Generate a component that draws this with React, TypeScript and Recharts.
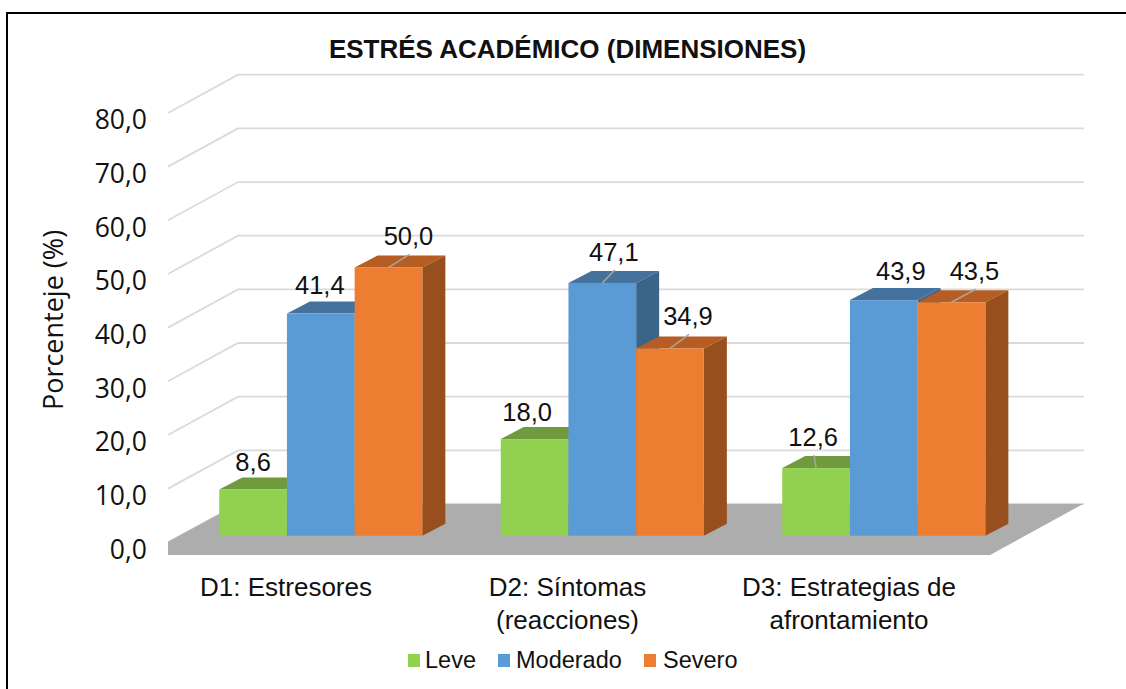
import { Bar, BarChart, CartesianGrid, LabelList, Legend, XAxis, YAxis } from 'recharts'

const categories = ['D1: Estresores', 'D2: Síntomas|(reacciones)', 'D3: Estrategias de|afrontamiento']
const leve = [8.6, 18.0, 12.6]
const moderado = [41.4, 47.1, 43.9]
const severo = [50.0, 34.9, 43.5]
const yTicks = [0, 10, 20, 30, 40, 50, 60, 70, 80]

const rows = categories.map((name, i) => ({
  name,
  leve: leve[i],
  moderado: moderado[i],
  severo: severo[i],
}))

const fmt = (n: number) => n.toFixed(1).replace('.', ',')

// caras de cada serie: frente, tapa, lateral
const leveColors = ['#92D050', '#6F9A3E', '#577A31']
const moderadoColors = ['#5B9BD5', '#44729D', '#3B6489']
const severoColors = ['#ED7D31', '#B55D22', '#964F1D']

// profundidad de la barra y de la pared del fondo
const BAR_DX = 23
const BAR_DY = -12
const WALL_LEFT = 168
const WALL_BACK = 238
const WALL_RIGHT = 1084
const BASE_Y = 535.7

// desplazamiento de cada etiqueta desde el centro de la tapa [dx, dy, con línea guía]
const leveLabels = [[0, -28, 0], [-7.5, -27, 0], [-3, -31, 1]]
const moderadoLabels = [[-1, -28.5, 0], [11.5, -31, 1], [17, -29, 0]]
const severoLabels = [[20, -31, 1], [18, -32, 1], [23, -31, 1]]

const font = '"Liberation Sans", Arial, sans-serif'
const axisFont = '"Open Sans", sans-serif'

const Box3D = (colors: string[]) => (props: any) => {
  const { x, y, width, height } = props
  const r = x + width
  const b = y + height
  return (
    <g>
      <polygon
        points={`${x},${y} ${x + BAR_DX},${y + BAR_DY} ${r + BAR_DX},${y + BAR_DY} ${r},${y}`}
        fill={colors[1]}
      />
      <polygon
        points={`${r},${y} ${r + BAR_DX},${y + BAR_DY} ${r + BAR_DX},${b + BAR_DY} ${r},${b}`}
        fill={colors[2]}
      />
      <rect x={x} y={y} width={width} height={height} fill={colors[0]} />
    </g>
  )
}

const DataLabel = (offsets: number[][]) => (props: any) => {
  const { x, y, width, value, index } = props
  const [dx, dy, leader] = offsets[index]
  const cx = x + width / 2
  const lx = cx + dx
  const ly = y + dy
  return (
    <g>
      {leader ? (
        <line x1={cx} y1={y} x2={lx + 1} y2={ly + 18} stroke="#A6A6A6" strokeWidth={1.5} />
      ) : null}
      <text
        x={lx}
        y={ly}
        textAnchor="middle"
        dominantBaseline="central"
        fontFamily={font}
        fontSize={25.5}
        fill="#111"
      >
        {fmt(value)}
      </text>
    </g>
  )
}

// línea de la grilla: sube por la pared izquierda y sigue por el fondo
const GridLine = (props: any) => {
  const { y1 } = props
  return (
    <polyline
      points={`${WALL_LEFT},${y1 + 6.6} ${WALL_BACK},${y1 - 31.7} ${WALL_RIGHT},${y1 - 31.7}`}
      fill="none"
      stroke="#DADADA"
      strokeWidth={1.8}
    />
  )
}

const YTick = (props: any) => (
  <text
    x={147}
    y={props.y + 13}
    textAnchor="end"
    dominantBaseline="central"
    fontFamily={axisFont}
    fontSize={26.5}
    fill="#111"
  >
    {fmt(props.payload.value)}
  </text>
)

const XTick = (props: any) => {
  const lines = String(props.payload.value).split('|')
  return (
    <text textAnchor="middle" fontFamily={font} fontSize={26} fill="#111">
      {lines.map((line, i) => (
        <tspan key={i} x={props.x - 35} y={596 + i * 33}>
          {line}
        </tspan>
      ))}
    </text>
  )
}

const legendItems = [
  { label: 'Leve', color: leveColors[0], left: 407.7, textLeft: 425 },
  { label: 'Moderado', color: moderadoColors[0], left: 498, textLeft: 516 },
  { label: 'Severo', color: severoColors[0], left: 644, textLeft: 663 },
]

const LegendBox = () => (
  <div style={{ position: 'relative', height: 30, width: 1126, fontFamily: font, fontSize: 23.5, color: '#111' }}>
    {legendItems.map((it) => (
      <span key={it.label}>
        <span
          style={{
            position: 'absolute',
            left: it.left,
            top: 8,
            width: 12,
            height: 13,
            background: it.color,
          }}
        />
        <span style={{ position: 'absolute', left: it.textLeft, top: 1, lineHeight: '27px' }}>{it.label}</span>
      </span>
    ))}
  </div>
)

export default function App() {
  return (
    <div style={{ position: 'absolute', left: 0, top: 0, width: 1126, height: 689, background: '#fff', overflow: 'hidden' }}>
      <div
        style={{
          position: 'absolute',
          left: 6,
          top: 12,
          width: 1140,
          height: 700,
          border: '2.5px solid #000',
          boxSizing: 'border-box',
        }}
      />
      <div style={{ position: 'absolute', left: 0, top: 0 }}>
        <BarChart
          width={1126}
          height={689}
          data={rows}
          barGap={0}
          barSize={67.7}
          margin={{ top: 106.4, right: 101.25, bottom: 13, left: 120.25 }}
        >
          <text
            x={567.5}
            y={49}
            textAnchor="middle"
            dominantBaseline="central"
            fontFamily={font}
            fontWeight="bold"
            fontSize={26}
            fill="#111"
          >
            ESTRÉS ACADÉMICO (DIMENSIONES)
          </text>
          <CartesianGrid vertical={false} horizontal={GridLine} />
          <polygon
            points={`${WALL_LEFT},${BASE_Y + 19.3} 990,${BASE_Y + 19.3} 1083,${BASE_Y - 31.7} ${WALL_BACK},${BASE_Y - 31.7} ${WALL_LEFT},${BASE_Y + 6}`}
            fill="#ADADAD"
          />
          <XAxis dataKey="name" interval={0} axisLine={false} tickLine={false} height={110.3} tick={XTick} />
          <YAxis
            width={60}
            domain={[0, 80]}
            ticks={yTicks}
            axisLine={false}
            tickLine={false}
            tick={YTick}
            label={() => (
              <text
                transform="translate(52 320) rotate(-90)"
                textAnchor="middle"
                dominantBaseline="central"
                fontFamily={axisFont}
                fontSize={27}
                fill="#111"
              >
                Porcenteje (%)
              </text>
            )}
          />
          <Legend verticalAlign="bottom" wrapperStyle={{ left: 0, width: 1126 }} content={<LegendBox />} />
          <Bar dataKey="leve" isAnimationActive={false} shape={Box3D(leveColors)}>
            <LabelList dataKey="leve" content={DataLabel(leveLabels)} />
          </Bar>
          <Bar dataKey="moderado" isAnimationActive={false} shape={Box3D(moderadoColors)}>
            <LabelList dataKey="moderado" content={DataLabel(moderadoLabels)} />
          </Bar>
          <Bar dataKey="severo" isAnimationActive={false} shape={Box3D(severoColors)}>
            <LabelList dataKey="severo" content={DataLabel(severoLabels)} />
          </Bar>
        </BarChart>
      </div>
    </div>
  )
}
